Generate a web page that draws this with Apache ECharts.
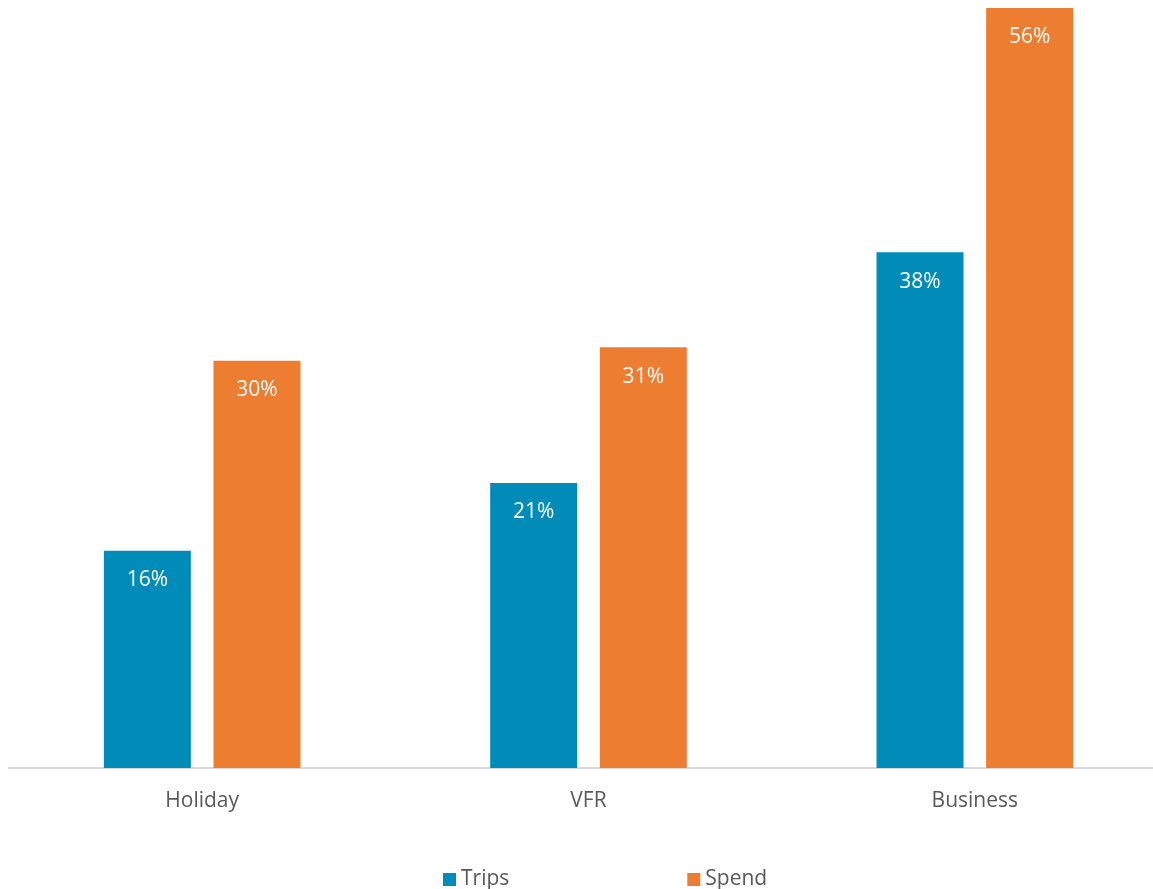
<!DOCTYPE html>
<html>
<head>
<meta charset="utf-8">
<title>Trips and Spend by purpose</title>
<script src="https://cdn.jsdelivr.net/npm/echarts@6/dist/echarts.min.js"></script>
<style>
  html, body { margin: 0; padding: 0; background: #ffffff; }
  #chart { width: 1153px; height: 889px; }
</style>
</head>
<body>
<div id="chart"></div>
<script>
// Share of trips and spend by visit purpose (%)
const categories = ['Holiday', 'VFR', 'Business'];
const trips = [16, 21, 38];
const spend = [30, 31, 56];
const seriesNames = ['Trips', 'Spend'];

const chart = echarts.init(document.getElementById('chart'), null, { renderer: 'canvas' });

const fontFamily = '"Open Sans", "Noto Sans", sans-serif';

const labelStyle = {
  show: true,
  position: 'insideTop',
  distance: 19,
  color: '#ffffff',
  fontSize: 21,
  fontFamily: fontFamily,
  formatter: p => p.value + '%'
};

chart.setOption({
  animation: false,
  backgroundColor: '#ffffff',
  grid: {
    left: 9, width: 1159, top: 8, bottom: 121,
    containLabel: false,
    outerBoundsMode: 'none'
  },
  legend: {
    top: 869,
    left: 443,
    padding: 0,
    itemWidth: 13,
    itemHeight: 13,
    itemGap: 178,
    icon: 'rect',
    textStyle: { color: '#595959', fontSize: 21, fontFamily: fontFamily, padding: [0, 0, 0, 0] },
    data: seriesNames
  },
  xAxis: {
    type: 'category',
    data: categories,
    axisLine: { lineStyle: { color: '#d9d9d9', width: 2 } },
    axisTick: { show: false },
    axisLabel: { color: '#595959', fontSize: 21, fontFamily: fontFamily, margin: 23 }
  },
  yAxis: {
    type: 'value',
    min: 0,
    max: 56,
    show: false,
    splitLine: { show: false }
  },
  series: [
    {
      name: seriesNames[0],
      type: 'bar',
      data: trips,
      barWidth: 87,
      barGap: '26%',
      itemStyle: { color: '#008BB8' },
      label: labelStyle
    },
    {
      name: seriesNames[1],
      type: 'bar',
      data: spend,
      barWidth: 87,
      barGap: '26%',
      itemStyle: { color: '#ED7D31' },
      label: labelStyle
    }
  ]
});
</script>
</body>
</html>
